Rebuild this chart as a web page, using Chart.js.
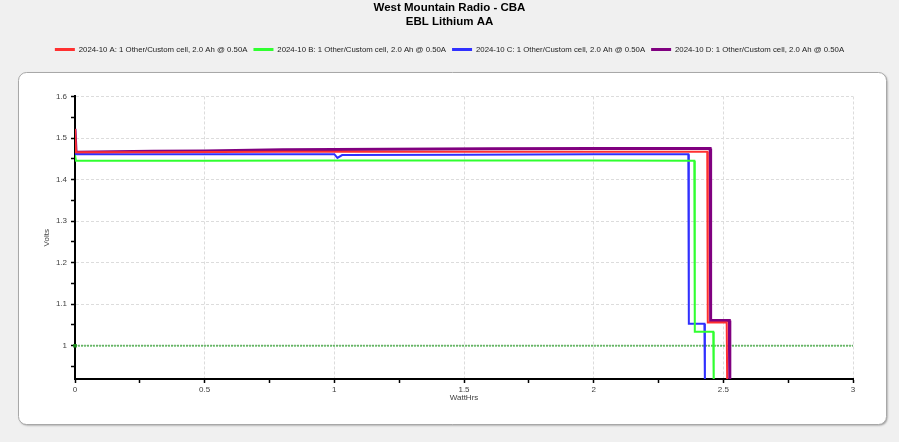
<!DOCTYPE html>
<html>
<head>
<meta charset="utf-8">
<script src="https://cdn.jsdelivr.net/npm/chart.js@4/dist/chart.umd.min.js"></script>
<style>
  html, body { margin: 0; padding: 0; background: #f0f0f0; }
  #wrap { width: 899px; height: 442px; }
</style>
</head>
<body>
<div id="wrap"><canvas id="cba" width="899" height="442"></canvas></div>
<script>
const TITLE_LINES = ['West Mountain Radio - CBA', 'EBL Lithium AA'];
const SERIES_LABELS = [
  '2024-10 A: 1 Other/Custom cell, 2.0 Ah @ 0.50A',
  '2024-10 B: 1 Other/Custom cell, 2.0 Ah @ 0.50A',
  '2024-10 C: 1 Other/Custom cell, 2.0 Ah @ 0.50A',
  '2024-10 D: 1 Other/Custom cell, 2.0 Ah @ 0.50A'
];
const SERIES_COLORS = ['#ff3030', '#30ff30', '#3030ff', '#800080'];

// WattHrs / Volts
const aWh = [0, 0.004, 0.3, 0.8, 1.5, 2.0, 2.438, 2.440, 2.513, 2.515];
const aV  = [1.522, 1.466, 1.466, 1.467, 1.467, 1.467, 1.467, 1.056, 1.056, 0.90];
const bWh = [0, 0.004, 0.5, 1.0, 1.5, 2.0, 2.388, 2.390, 2.461, 2.463];
const bV  = [1.459, 1.445, 1.445, 1.446, 1.446, 1.446, 1.445, 1.034, 1.034, 0.90];
const cWh = [0, 0.004, 0.5, 1.0, 1.012, 1.03, 1.5, 2.0, 2.365, 2.367, 2.427, 2.429];
const cV  = [1.464, 1.461, 1.461, 1.461, 1.452, 1.459, 1.460, 1.461, 1.461, 1.053, 1.053, 0.90];
const dWh = [0, 0.004, 0.15, 0.3, 0.5, 0.8, 1.2, 1.6, 2.0, 2.449, 2.451, 2.523, 2.525];
const dV  = [1.522, 1.466, 1.467, 1.468, 1.469, 1.472, 1.473, 1.474, 1.475, 1.475, 1.061, 1.061, 0.90];

const CUTOFF_V = 1.0;
const X_TICKS = [0, 0.25, 0.5, 0.75, 1, 1.25, 1.5, 1.75, 2, 2.25, 2.5, 2.75, 3];
const Y_TICKS = [0.95, 1.0, 1.05, 1.1, 1.15, 1.2, 1.25, 1.3, 1.35, 1.4, 1.45, 1.5, 1.55, 1.6];

const FONT = "'Liberation Sans', Arial, sans-serif";

function pts(xs, ys) {
  return xs.map((x, i) => ({ x, y: ys[i] }));
}

function isMajor(v, step) {
  return Math.abs(Math.round(v / step) * step - v) < 1e-6;
}

const panelPlugin = {
  id: 'panel',
  beforeDraw(chart) {
    const ctx = chart.ctx;
    ctx.save();
    ctx.fillStyle = '#f0f0f0';
    ctx.fillRect(0, 0, chart.width, chart.height);
    ctx.shadowColor = 'rgba(0,0,0,0.35)';
    ctx.shadowBlur = 2;
    ctx.shadowOffsetX = 1;
    ctx.shadowOffsetY = 1;
    ctx.beginPath();
    ctx.roundRect(18.5, 72.5, 868, 352, 8);
    ctx.fillStyle = '#ffffff';
    ctx.fill();
    ctx.shadowColor = 'transparent';
    ctx.strokeStyle = '#a8a8a8';
    ctx.lineWidth = 1;
    ctx.stroke();
    ctx.restore();
  }
};

// empty box between the legend and the plot
const spacerPlugin = {
  id: 'spacer',
  beforeInit(chart) {
    const box = {
      position: 'top', weight: 0, fullSize: true, options: {},
      left: 0, top: 0, right: 0, bottom: 0, width: 0, height: 0,
      isHorizontal() { return true; },
      update(maxWidth) { this.width = maxWidth; this.height = 33; },
      draw() {},
    };
    Chart.layouts.addBox(chart, box);
  }
};

Chart.register(panelPlugin, spacerPlugin);

const lineSet = (i, data, width) => ({
  label: SERIES_LABELS[i],
  data,
  borderColor: SERIES_COLORS[i],
  backgroundColor: SERIES_COLORS[i],
  borderWidth: width,
  pointRadius: 0,
  tension: 0,
  order: 2,
});

new Chart(document.getElementById('cba'), {
  type: 'line',
  data: {
    datasets: [
      lineSet(0, pts(aWh, aV), 2),
      lineSet(1, pts(bWh, bV), 2),
      lineSet(2, pts(cWh, cV), 2),
      lineSet(3, pts(dWh, dV), 3),
      {
        label: 'cutoff',
        data: [{ x: 0, y: CUTOFF_V }, { x: 3, y: CUTOFF_V }],
        borderColor: 'rgba(20,150,20,0.6)',
        backgroundColor: '#1a8a1a',
        borderWidth: 2,
        borderDash: [2, 1],
        pointStyle: 'rect',
        pointRadius: [2.5, 0],
        pointBorderWidth: 0,
        clip: false,
        order: 3,
      },
    ],
  },
  options: {
    responsive: false,
    animation: false,
    devicePixelRatio: 1,
    layout: { padding: { left: 20, right: 20, top: 0, bottom: 39 } },
    plugins: {
      title: {
        display: true,
        text: TITLE_LINES,
        color: '#000',
        font: { family: FONT, size: 11.5, weight: 'bold', lineHeight: 1.29 },
        padding: { top: 0, bottom: 10 },
      },
      legend: {
        display: true,
        position: 'top',
        labels: {
          boxWidth: 20,
          boxHeight: 3,
          padding: 6,
          color: '#222',
          font: { family: FONT, size: 7.8 },
          filter: item => item.text !== 'cutoff',
          generateLabels(chart) {
            const items = Chart.defaults.plugins.legend.labels.generateLabels(chart);
            items.forEach(it => { it.fillStyle = it.strokeStyle; it.lineWidth = 0; });
            return items;
          },
        },
      },
      tooltip: { enabled: false },
    },
    scales: {
      x: {
        type: 'linear',
        min: 0, max: 3,
        afterBuildTicks: s => { s.ticks = X_TICKS.map(v => ({ value: v })); },
        afterFit: s => { s.height = 24; s.paddingRight = 46; },
        ticks: {
          autoSkip: false,
          maxRotation: 0,
          padding: 2,
          color: '#404040',
          font: { family: FONT, size: 8 },
          callback: v => isMajor(v, 0.5) ? String(Number(v.toFixed(2))) : '',
        },
        grid: {
          color: c => isMajor(c.tick.value, 0.5) ? '#dcdcdc' : 'transparent',
          tickColor: '#000',
          tickLength: 4,
          tickWidth: 1.5,
        },
        border: { color: '#000', width: 2, dash: [3, 2] },
        title: {
          display: true,
          text: 'WattHrs',
          color: '#404040',
          font: { family: FONT, size: 8 },
          padding: { top: 0, bottom: 0 },
        },
      },
      y: {
        type: 'linear',
        min: 0.92, max: 1.6,
        afterBuildTicks: s => { s.ticks = Y_TICKS.map(v => ({ value: v })); },
        afterFit: s => { s.width = 55; },
        ticks: {
          autoSkip: false,
          padding: 4,
          color: '#404040',
          font: { family: FONT, size: 8 },
          callback: v => isMajor(v, 0.1) ? String(Number(v.toFixed(2))) : '',
        },
        grid: {
          color: c => isMajor(c.tick.value, 0.1) ? '#dcdcdc' : 'transparent',
          tickColor: '#000',
          tickLength: 4,
          tickWidth: 1.5,
        },
        border: { color: '#000', width: 2, dash: [3, 2] },
        title: {
          display: true,
          text: 'Volts',
          color: '#404040',
          font: { family: FONT, size: 8 },
          padding: { top: 22, bottom: 0 },
        },
      },
    },
  },
});
</script>
</body>
</html>
